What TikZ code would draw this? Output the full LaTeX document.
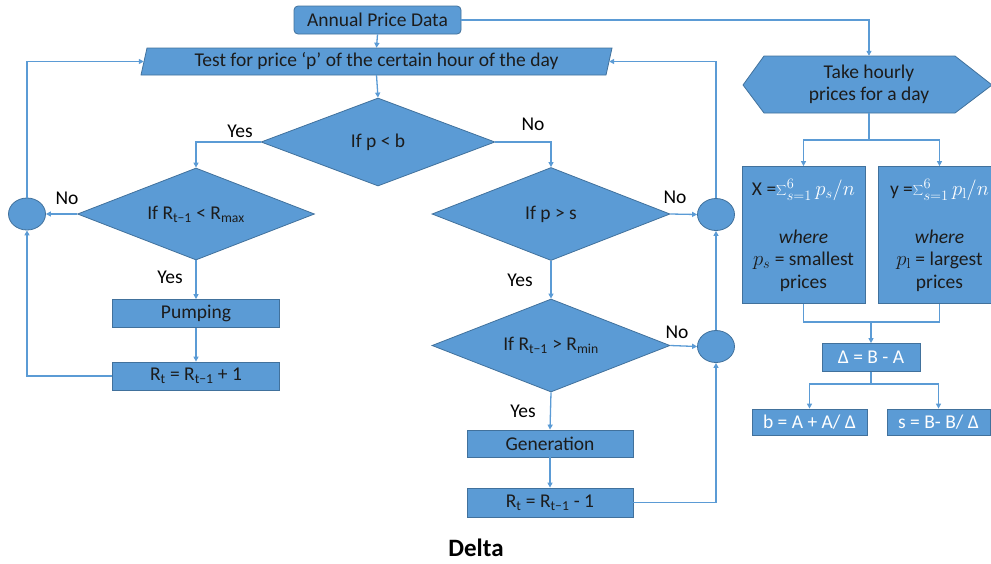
\documentclass[tikz,border=0pt]{standalone}
\usepackage[no-math]{fontspec}
\setmainfont{Carlito}
\usetikzlibrary{shapes.geometric,arrows.meta}
\definecolor{fillblue}{HTML}{5B9BD5}
\definecolor{edgeblue}{HTML}{41719C}
\definecolor{inkdark}{HTML}{1C1C1C}
\tikzset{
  every node/.style={font=\fontsize{19.5}{22.5}\selectfont, text=inkdark},
  blk/.style={rectangle, fill=fillblue, draw=edgeblue, line width=0.8pt, inner sep=0pt, align=center},
  dia/.style={diamond, fill=fillblue, draw=edgeblue, line width=0.8pt, inner sep=0pt},
  junc/.style={ellipse, fill=fillblue, draw=edgeblue, line width=0.8pt,
    minimum width=37pt, minimum height=32pt, inner sep=0pt},
  ghost/.style={rectangle, inner sep=0pt, align=center},
  shapefill/.style={fill=fillblue, draw=edgeblue, line width=0.8pt},
  conn/.style={draw=fillblue, line width=1.3pt, -{Triangle[length=5pt,width=5pt]}},
  wire/.style={draw=fillblue, line width=1.3pt},
  lbl/.style={text=black},
}
\begin{document}
\begin{tikzpicture}[x=1pt, y=-1pt]
\useasboundingbox (0,0) rectangle (991,563);

% parallelogram and hexagon outlines
\path[shapefill] (141,75) -- (147,48) -- (612,48) -- (606,75) -- cycle;
\path[shapefill] (743,85) -- (764,56) -- (955,56) -- (992,85) -- (955,113) -- (764,113) -- cycle;

% top of the chart
\node[blk, rounded corners=4pt, minimum width=167pt, minimum height=28pt] (annual) at (377.5,20) {Annual Price Data};
\node[ghost, minimum width=465pt, minimum height=27pt] (test) at (376.5,61.5)
  {Test for price ‘p’ of the certain hour of the day};

% decisions
\node[dia, minimum width=234pt, minimum height=88pt] (d1) at (378,142) {\makebox[0pt]{If p < b}};
\node[dia, minimum width=237pt, minimum height=92pt] (d2) at (196,214)
  {\makebox[0pt]{If R\textsubscript{t−1} < R\textsubscript{max}}};
\node[dia, minimum width=238pt, minimum height=93pt] (d3) at (551,214) {\makebox[0pt]{If p > s}};
\node[dia, minimum width=238pt, minimum height=93pt] (d4) at (551,345.5)
  {\makebox[0pt]{If R\textsubscript{t−1} > R\textsubscript{min}}};

% junctions
\node[junc] (c1) at (27,214) {};
\node[junc] (c2) at (716,214.5) {};
\node[junc] (c3) at (716,346.5) {};

% actions
\node[blk, minimum width=167pt, minimum height=28pt] (pump) at (196,313.5) {Pumping};
\node[blk, minimum width=167pt, minimum height=28pt] (rinc) at (196,376)
  {R\textsubscript{t} = R\textsubscript{t−1} + 1};
\node[blk, minimum width=166pt, minimum height=27pt] (gen) at (550,443.5) {Generation};
\node[blk, minimum width=166pt, minimum height=29pt] (rdec) at (550,502.5)
  {R\textsubscript{t} = R\textsubscript{t−1} - 1};

% threshold branch
\node[ghost, minimum width=226pt, minimum height=57pt] (hex) at (869,84.5)
  {Take hourly\\prices for a day};
\node[blk, minimum width=123pt, minimum height=137pt] (xbox) at (803.5,235)
  {X =\textcolor{white}{$\sum_{s=1}^{6} p_s/n$}\\[25pt]
   \textit{where}\\
   $p_s$ = smallest\\
   prices};
\node[blk, minimum width=123pt, minimum height=137pt] (ybox) at (939.5,235)
  {y =\textcolor{white}{$\sum_{s=1}^{6} p_{\mathrm{l}}/n$}\\[25pt]
   \textit{where}\\
   $p_{\mathrm{l}}$ = largest\\
   prices};
\node[blk, minimum width=98pt, minimum height=28pt, text=white] (dbox) at (871,357.5) {Δ = B - A};
\node[blk, minimum width=115pt, minimum height=26pt, text=white] (beq) at (809.5,422) {b = A + A/ Δ};
\node[blk, minimum width=103pt, minimum height=26pt, text=white] (seq) at (938.5,422) {s = B- B/ Δ};

\node[font=\fontsize{25}{30}\selectfont\bfseries, text=black] (title) at (476,548) {Delta};

% connectors, left part
\draw[conn] (annual.south) -- (test.north);
\draw[conn] (test.south) -- (d1.north);
\draw[conn] (d1.west) -| (d2.north);
\draw[conn] (d1.east) -| (d3.north);
\draw[conn] (d2.west) -- (c1.east);
\draw[conn] (c1.north) |- (test.west);
\draw[conn] (d2.south) -- (pump.north);
\draw[conn] (pump.south) -- (rinc.north);
\draw[conn] (rinc.west) -| (c1.south);

% connectors, middle part
\draw[conn] (d3.east) -- (c2.west);
\draw[conn] (c2.north) |- (test.east);
\draw[conn] (d3.south) -- (d4.north);
\draw[conn] (d4.east) -- (c3.west);
\draw[conn] (c3.north) -- (c2.south);
\draw[conn] (d4.south) -- (gen.north);
\draw[conn] (gen.south) -- (rdec.north);
\draw[conn] (rdec.east) -| (c3.south);

% connectors, right part
\draw[conn] (annual.east) -| (hex.north);
\coordinate (hsplit) at (869,140);
\draw[wire] (hex.south) -- (hsplit);
\draw[conn] (hsplit) -| (xbox.north);
\draw[conn] (hsplit) -| (ybox.north);
\coordinate (jmerge) at (871,322);
\draw[wire] (xbox.south) |- (jmerge);
\draw[wire] (ybox.south) |- (jmerge);
\draw[conn] (jmerge) -- (dbox.north);
\coordinate (dsplit) at (871,384);
\draw[wire] (dbox.south) -- (dsplit);
\draw[conn] (dsplit) -| (beq.north);
\draw[conn] (dsplit) -| (seq.north);

% branch labels
\node[lbl] (yes1) at (240,131) {Yes};
\node[lbl] (no1) at (533,124) {No};
\node[lbl] (no2) at (67,198) {No};
\node[lbl] (yes2) at (170,277) {Yes};
\node[lbl] (no3) at (675,197) {No};
\node[lbl] (yes3) at (520,280) {Yes};
\node[lbl] (no4) at (677,332) {No};
\node[lbl] (yes4) at (523,411) {Yes};
\end{tikzpicture}
\end{document}
